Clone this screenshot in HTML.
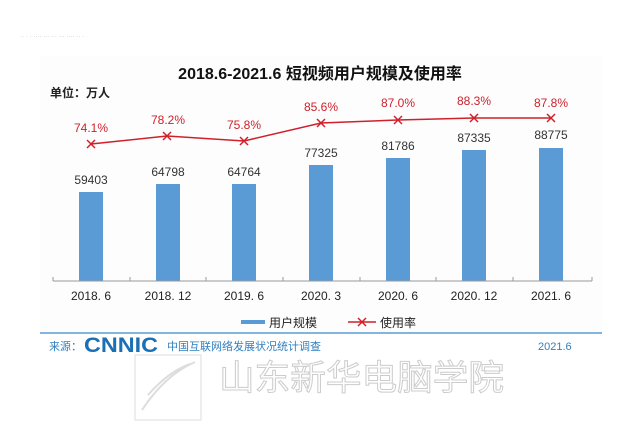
<!DOCTYPE html>
<html><head><meta charset="utf-8"><style>
body{margin:0;background:#fff;}
svg{display:block;font-family:"Liberation Sans","Noto Sans CJK SC",sans-serif;}
</style></head><body>
<svg width="640" height="436" viewBox="0 0 640 436">
<rect width="640" height="436" fill="#fff"/>
<text x="20" y="37" font-size="7" fill="#ccc">.. .  . .... ... ... ... .... ..  .</text>
<rect x="40" y="56" width="562" height="277" fill="#fdfdfd"/>
<text x="320" y="79" font-size="16" font-weight="bold" text-anchor="middle" fill="#111">2018.6-2021.6 短视频用户规模及使用率</text>
<text x="50" y="97" font-size="12" font-weight="bold" fill="#222">单位：万人</text>
<g fill="#5b9bd5">
<rect x="79" y="192" width="24" height="89"/>
<rect x="156" y="184" width="24" height="97"/>
<rect x="232" y="184" width="24" height="97"/>
<rect x="309" y="165" width="24" height="116"/>
<rect x="386" y="158" width="24" height="123"/>
<rect x="462" y="150" width="24" height="131"/>
<rect x="539" y="148" width="24" height="133"/>
</g>
<g font-size="12" fill="#333" text-anchor="middle">
<text x="91" y="184">59403</text><text x="168" y="176">64798</text><text x="244" y="176">64764</text>
<text x="321" y="157">77325</text><text x="398" y="150">81786</text><text x="474" y="142">87335</text><text x="551" y="139">88775</text>
</g>
<line x1="53" y1="281" x2="592" y2="281" stroke="#999" stroke-width="1"/>
<g stroke="#999"><line x1="53" y1="277" x2="53" y2="281"/><line x1="130" y1="277" x2="130" y2="281"/><line x1="206" y1="277" x2="206" y2="281"/><line x1="283" y1="277" x2="283" y2="281"/><line x1="360" y1="277" x2="360" y2="281"/><line x1="436" y1="277" x2="436" y2="281"/><line x1="513" y1="277" x2="513" y2="281"/><line x1="592" y1="277" x2="592" y2="281"/></g>
<g font-size="12" fill="#222" text-anchor="middle">
<text x="91" y="300">2018. 6</text><text x="168" y="300">2018. 12</text><text x="244" y="300">2019. 6</text><text x="321" y="300">2020. 3</text><text x="398" y="300">2020. 6</text><text x="474" y="300">2020. 12</text><text x="551" y="300">2021. 6</text>
</g>
<polyline points="91,144 167,136 244,141 321,123 398,120 474,118 551,118" fill="none" stroke="#d0202a" stroke-width="1.5"/>
<g stroke="#d0202a" stroke-width="1.5">
<path d="M87,140l8,8M95,140l-8,8"/><path d="M163,132l8,8M171,132l-8,8"/><path d="M240,137l8,8M248,137l-8,8"/><path d="M317,119l8,8M325,119l-8,8"/><path d="M394,116l8,8M402,116l-8,8"/><path d="M470,114l8,8M478,114l-8,8"/><path d="M547,114l8,8M555,114l-8,8"/>
</g>
<g font-size="12" fill="#d0202a" text-anchor="middle">
<text x="91" y="132">74.1%</text><text x="168" y="124">78.2%</text><text x="244" y="129">75.8%</text><text x="321" y="111">85.6%</text><text x="398" y="107">87.0%</text><text x="474" y="105">88.3%</text><text x="551" y="107">87.8%</text>
</g>
<rect x="241" y="320" width="24" height="4" fill="#5b9bd5"/>
<text x="269" y="327" font-size="12" fill="#222">用户规模</text>
<line x1="348" y1="322" x2="376" y2="322" stroke="#d0202a" stroke-width="1.5"/>
<path d="M358,318l8,8M366,318l-8,8" stroke="#d0202a" stroke-width="1.5"/>
<text x="380" y="327" font-size="12" fill="#222">使用率</text>
<line x1="40" y1="333" x2="602" y2="333" stroke="#5b9bd5" stroke-width="1.5"/>
<text x="49" y="350" font-size="11" fill="#2f7fc1">来源：</text>
<text x="84" y="352" font-size="21" font-weight="bold" fill="#1a6fb5" textLength="74" lengthAdjust="spacingAndGlyphs">CNNIC</text>
<text x="167" y="350" font-size="11" fill="#2f7fc1">中国互联网络发展状况统计调查</text>
<text x="538" y="350" font-size="11" fill="#2f7fc1">2021.6</text>
<rect x="135" y="355" width="66" height="65" fill="none" stroke="#ddd"/>
<path d="M142,410 Q165,375 195,362 M148,395 Q168,372 190,364" fill="none" stroke="#ddd" stroke-width="2"/>
<text x="219" y="390" font-size="35" fill="#fff" stroke="#ccc" stroke-width="1" textLength="285" lengthAdjust="spacingAndGlyphs">山东新华电脑学院</text>
</svg>
</body></html>
